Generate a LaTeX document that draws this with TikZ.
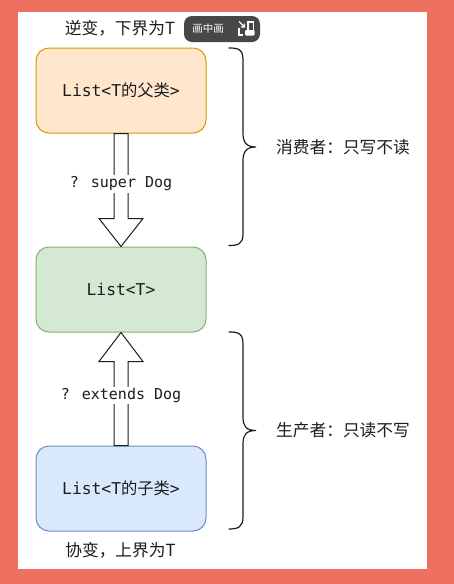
\documentclass[tikz,border=0pt]{standalone}
\usepackage{fontspec}
\usetikzlibrary{calc}
\setmainfont{Noto Sans CJK SC}
\newfontfamily\cjk{Noto Sans CJK SC}
\newfontfamily\mono{DejaVu Sans Mono}
\definecolor{frame}{HTML}{EE7060}
\definecolor{ink}{HTML}{1C1C1C}
\newcommand{\cnfont}{\fontsize{16.7}{20}\cjk\selectfont}
\newcommand{\mnfont}{\fontsize{16.3}{20}\mono\selectfont}
\newcommand{\lbfont}{\fontsize{15}{20}\mono\selectfont}
\tikzset{
  x=1pt,y=-1pt,
  listbox/.style={draw,line width=1pt,rounded corners=13pt,minimum width=170pt,minimum height=85pt,inner sep=0pt,text=ink,font=\mnfont},
  orangebox/.style={listbox,fill=orange!20!white,fill=orangefill,draw=orangeline},
  greenbox/.style={listbox,fill=greenfill,draw=greenline},
  bluebox/.style={listbox,fill=bluefill,draw=blueline},
  cnlabel/.style={text=ink,font=\cnfont,inner sep=0pt},
  fatarrow/.style={draw=ink,fill=white,line width=1pt,line join=miter},
  arrowlabel/.style={fill=white,text=ink,font=\lbfont,inner sep=1.5pt},
  bracepath/.style={draw=ink,line width=1.2pt,line cap=round},
}
\definecolor{orangefill}{HTML}{FFE6CC}
\definecolor{orangeline}{HTML}{D79B00}
\definecolor{greenfill}{HTML}{D5E8D4}
\definecolor{greenline}{HTML}{82B366}
\definecolor{bluefill}{HTML}{DAE8FC}
\definecolor{blueline}{HTML}{6C8EBF}
\begin{document}
\begin{tikzpicture}
\useasboundingbox (0,0) rectangle (454,584);
\fill[frame] (0,0) rectangle (454,584);
\fill[white] (18,12) rectangle (427,569);

\node[orangebox] (top) at (121,90.5) {List<T\cjk 的父类\mono >};
\node[greenbox] (mid) at (121,289.5) {List<T>};
\node[bluebox] (bot) at (121,488.5) {List<T\cjk 的子类\mono >};

% hollow arrows
\draw[fatarrow] ($(top.south)+(-7,0)$) -- ($(mid.north)+(-7,-28)$) -- ($(mid.north)+(-22,-28)$) -- (mid.north)
  -- ($(mid.north)+(22,-28)$) -- ($(mid.north)+(7,-28)$) -- ($(top.south)+(7,0)$) -- cycle;
\draw[fatarrow] ($(bot.north)+(-7,0)$) -- ($(mid.south)+(-7,29)$) -- ($(mid.south)+(-22,29)$) -- (mid.south)
  -- ($(mid.south)+(22,29)$) -- ($(mid.south)+(7,29)$) -- ($(bot.north)+(7,0)$) -- cycle;
\node[arrowlabel] (lsuper) at (121,184) {? super Dog};
\node[arrowlabel] (lextends) at (121,395.5) {? extends Dog};

% captions
\node[cnlabel] (contra) at (120,28.5) {逆变，下界为T};
\node[cnlabel] (co) at (120.5,550.5) {协变，上界为T};
\node[cnlabel] (consumer) at (343,147) {消费者：只写不读};
\node[cnlabel] (producer) at (343,430.5) {生产者：只读不写};

% braces
\coordinate (b1t) at (229,48);
\coordinate (b1m) at (256,147);
\coordinate (b1b) at (229,245.5);
\draw[bracepath] (b1t) .. controls (238,48) and (243,49) .. (243,60) -- (243,133)
  .. controls (243,142) and (246,147) .. (b1m)
  .. controls (246,147) and (243,152) .. (243,161) -- (243,234)
  .. controls (243,244) and (238,245.5) .. (b1b);
\coordinate (b2t) at (229,332);
\coordinate (b2m) at (256,430.5);
\coordinate (b2b) at (229,529);
\draw[bracepath] (b2t) .. controls (238,332) and (243,333) .. (243,344) -- (243,417)
  .. controls (243,426) and (246,430.5) .. (b2m)
  .. controls (246,430.5) and (243,435) .. (243,444) -- (243,517)
  .. controls (243,527) and (238,529) .. (b2b);

% picture-in-picture badge
\fill[black!72] (184,16) [rounded corners=8pt] rectangle (260,42);
\node[text=white,font=\fontsize{10.5}{12}\cjk\selectfont,inner sep=0pt] (pip) at (208,29) {画中画};
\draw[white,line width=1.3pt] (248,30) -- (248,22) -- (253.5,22) -- (253.5,30);
\fill[white,rounded corners=1pt] (245,30) rectangle (254.5,35.5);
\draw[white,line width=1.2pt] (239,28) -- (239,35) -- (243,35);
\draw[white,line width=1.1pt] (239,21.5) -- (244.5,27) (244.5,23.5) -- (244.5,27) -- (241,27);
\end{tikzpicture}
\end{document}
